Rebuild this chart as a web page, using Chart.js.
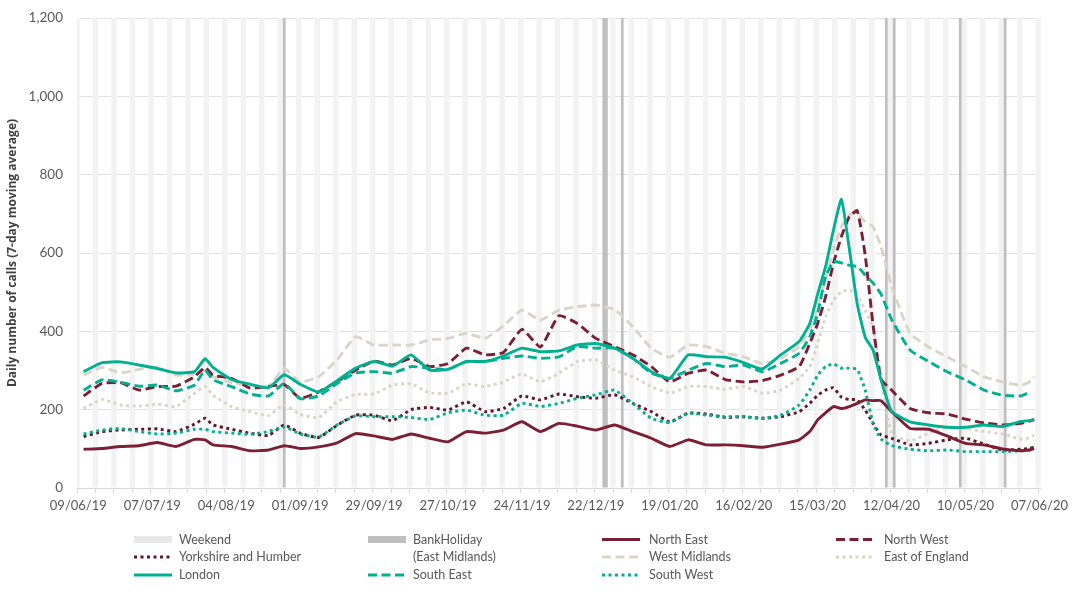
<!DOCTYPE html>
<html>
<head>
<meta charset="utf-8">
<script src="https://cdn.jsdelivr.net/npm/chart.js@4.4.0/dist/chart.umd.min.js"></script>
<style>
  html, body { margin: 0; padding: 0; background: #fff; }
  #wrap { width: 1073px; height: 601px; }
</style>
</head>
<body>
<div id="wrap"><canvas id="chart" width="1073" height="601"></canvas></div>
<script>
// one category per day, 09/06/19 .. 07/06/20
var startDay = Date.UTC(2019, 5, 9);
var dayCount = 365;
var dayLabels = [];
var weekendDays = [];
for (var i = 0; i < dayCount; i++) {
  var dt = new Date(startDay + i * 86400000);
  var lbl = ('0' + dt.getUTCDate()).slice(-2) + '/' + ('0' + (dt.getUTCMonth() + 1)).slice(-2) + '/' + String(dt.getUTCFullYear()).slice(-2);
  dayLabels.push(lbl);
  if (dt.getUTCDay() === 0 || dt.getUTCDay() === 6) weekendDays.push(lbl);
}
var bankHolidays = ['26/08/19', '25/12/19', '26/12/19', '01/01/20', '10/04/20', '13/04/20', '08/05/20', '25/05/20'];
var shadeTop = 1200;

var sampleDays = [2, 9, 16, 23, 30, 37, 44, 48, 51, 58, 65, 72, 78, 84, 91, 98, 105, 112, 119, 126,
  133, 140, 147, 154, 161, 168, 175, 182, 189, 196, 203, 210, 217, 224, 231, 238, 245, 252, 259, 266,
  273, 277, 280, 283, 286, 289, 292, 295, 298, 301, 304, 308, 315, 322, 329, 336, 343, 350, 357, 360, 362];

var northEast = [99, 101, 106, 108, 116, 106, 124, 123, 110, 106, 95, 97, 108, 101, 105, 115, 139, 133, 124, 138,
  127, 118, 144, 140, 148, 169, 144, 165, 158, 148, 161, 144, 127, 106, 123, 110, 110, 108, 104, 112,
  123, 144, 174, 192, 208, 203, 208, 216, 225, 223, 223, 195, 152, 150, 133, 114, 110, 100, 95, 97, 101];
var northWest = [235, 267, 269, 250, 259, 260, 284, 308, 288, 280, 255, 259, 264, 229, 245, 272, 301, 324, 314, 331,
  310, 318, 357, 340, 346, 405, 360, 440, 420, 382, 361, 340, 310, 271, 293, 301, 277, 271, 274, 288,
  310, 369, 420, 488, 574, 642, 693, 708, 595, 415, 278, 250, 203, 192, 189, 176, 166, 161, 165, 170, 175];
var yorkshire = [131, 144, 148, 150, 151, 144, 163, 178, 161, 150, 140, 134, 161, 140, 129, 160, 186, 186, 172, 200,
  206, 199, 220, 195, 203, 235, 225, 240, 233, 229, 238, 216, 195, 169, 191, 189, 180, 182, 178, 182,
  195, 216, 237, 250, 256, 232, 226, 225, 199, 165, 135, 127, 110, 114, 123, 127, 112, 97, 99, 101, 104];
var westMidlands = [288, 308, 294, 303, 308, 288, 291, 301, 284, 269, 262, 260, 305, 271, 284, 327, 386, 365, 365, 365,
  378, 382, 395, 382, 414, 454, 429, 454, 463, 467, 456, 412, 357, 334, 365, 361, 344, 335, 318, 331,
  361, 403, 463, 531, 608, 667, 697, 701, 680, 667, 616, 515, 395, 360, 335, 310, 284, 271, 262, 270, 284];
var eastOfEngland = [203, 226, 212, 209, 214, 208, 242, 259, 237, 208, 195, 185, 212, 188, 180, 220, 239, 240, 263, 266,
  243, 242, 266, 259, 271, 291, 271, 293, 323, 327, 301, 284, 259, 242, 259, 259, 252, 259, 242, 250,
  280, 310, 369, 437, 480, 501, 506, 493, 454, 410, 288, 140, 120, 140, 155, 152, 144, 138, 125, 128, 135];
var london = [297, 320, 322, 314, 305, 294, 297, 330, 308, 277, 265, 256, 289, 265, 245, 274, 306, 323, 311, 340,
  301, 303, 323, 323, 337, 357, 348, 350, 365, 369, 357, 331, 297, 280, 340, 335, 334, 320, 304, 340,
  374, 420, 495, 565, 659, 737, 610, 470, 385, 352, 276, 196, 169, 161, 155, 155, 161, 157, 170, 172, 174];
var southEast = [250, 276, 270, 260, 263, 248, 263, 301, 276, 259, 240, 235, 267, 228, 235, 267, 294, 297, 293, 310,
  306, 303, 323, 323, 331, 337, 331, 335, 361, 357, 357, 331, 293, 280, 301, 318, 310, 314, 297, 318,
  344, 386, 446, 540, 578, 575, 569, 565, 544, 523, 495, 430, 352, 323, 297, 276, 250, 237, 235, 244, null];
var southWest = [138, 148, 152, 144, 138, 140, 150, 150, 144, 140, 137, 144, 156, 138, 130, 161, 184, 182, 182, 180,
  175, 192, 199, 186, 186, 216, 208, 216, 229, 238, 250, 216, 178, 167, 191, 186, 182, 182, 178, 186,
  212, 250, 288, 310, 317, 306, 306, 303, 250, 165, 125, 108, 99, 95, 97, 93, 93, 93, 95, 96, 97];

var maroon = '#7b1f34';
var maroonDark = '#5c1828';
var teal = '#00b090';
var stone = '#d9d5c8';

function points(values) {
  return sampleDays.map(function (d, k) { return { x: dayLabels[d], y: values[k] }; });
}
function shade(days) {
  return dayLabels.map(function (l) { return days.indexOf(l) >= 0 ? shadeTop : null; });
}
function lineSet(label, values, color, dash, order) {
  return {
    type: 'line', label: label, data: points(values), borderColor: color, backgroundColor: color,
    borderWidth: 2.9, borderDash: dash, pointRadius: 0, tension: 0.15, order: order
  };
}

var dotted = [3, 3.5];
var dashed = [9, 4.5];

var datasets = [
  { label: 'Weekend', data: shade(weekendDays), backgroundColor: '#f2f2f2', legendColor: '#e8e8e8', order: 21 },
  { label: 'BankHoliday', data: shade(bankHolidays), backgroundColor: '#bfbfbf', legendColor: '#bfbfbf', order: 20 },
  lineSet('North East', northEast, maroon, [], 2),
  lineSet('North West', northWest, maroon, dashed, 4),
  lineSet('Yorkshire and Humber', yorkshire, maroonDark, dotted, 6),
  lineSet('West Midlands', westMidlands, stone, dashed, 7),
  lineSet('East of England', eastOfEngland, stone, dotted, 8),
  lineSet('London', london, teal, [], 1),
  lineSet('South East', southEast, teal, dashed, 3),
  lineSet('South West', southWest, teal, dotted, 5)
];
datasets.forEach(function (ds) {
  if (!ds.type) {
    ds.grouped = false; ds.barPercentage = 1.04; ds.categoryPercentage = 1; ds.borderWidth = 0;
  }
});

// legend as laid out in the original: 4 columns, 3 rows
var legendRows = [
  ['Weekend', 'BankHoliday', 'North East', 'North West'],
  ['Yorkshire and Humber', '(East Midlands)', 'West Midlands', 'East of England'],
  ['London', 'South East', 'South West']
];
var gridLegend = {
  id: 'gridLegend',
  afterDraw: function (chart) {
    var ctx = chart.ctx;
    var markX = [134, 368, 602, 836], textX = [179, 413, 649, 884], rowY = [539.5, 557, 575];
    ctx.save();
    ctx.font = '12.5px Lato';
    ctx.textBaseline = 'middle';
    legendRows.forEach(function (row, r) {
      row.forEach(function (label, c) {
        var y = rowY[r];
        var ds = chart.data.datasets.find(function (d) { return d.label === label; });
        if (ds && ds.type === 'line') {
          ctx.beginPath();
          ctx.setLineDash(ds.borderDash);
          ctx.lineWidth = ds.borderWidth;
          ctx.strokeStyle = ds.borderColor;
          ctx.moveTo(markX[c], y);
          ctx.lineTo(markX[c] + 38, y);
          ctx.stroke();
          ctx.setLineDash([]);
        } else if (ds) {
          ctx.fillStyle = ds.legendColor;
          ctx.fillRect(markX[c], y - 3.5, 38, 7);
        }
        ctx.fillStyle = '#595959';
        ctx.fillText(label, textX[c], y);
      });
    });
    ctx.restore();
  }
};

new Chart(document.getElementById('chart').getContext('2d'), {
  type: 'bar',
  data: { labels: dayLabels, datasets: datasets },
  options: {
    responsive: false,
    animation: false,
    layout: { padding: { top: 18, right: 31, bottom: 90, left: 0 } },
    plugins: { legend: { display: false }, tooltip: { enabled: false } },
    scales: {
      x: {
        offset: true,
        grid: {
          offset: true, drawOnChartArea: false, tickLength: 5,
          color: function (c) { return c.index % 7 === 0 ? '#d9d9d9' : 'rgba(0,0,0,0)'; }
        },
        border: { color: '#d9d9d9' },
        ticks: {
          autoSkip: false, maxRotation: 0, minRotation: 0, padding: 5, color: '#595959',
          font: { family: 'Lato', size: 13 },
          callback: function (v, i) { return i % 28 === 0 ? dayLabels[i] : ''; }
        },
        afterFit: function (s) { s.height = 23; }
      },
      y: {
        min: 0, max: 1200,
        ticks: { stepSize: 200, padding: 3, color: '#595959', font: { family: 'Lato', size: 13.5 } },
        grid: { color: '#e2e2e2', drawTicks: true, tickLength: 11, tickColor: 'rgba(0,0,0,0)' },
        border: { display: false },
        title: {
          display: true, text: 'Daily number of calls (7-day moving average)', color: '#404040',
          font: { family: 'Open Sans', size: 12, weight: 'bold' }, padding: { top: 5, bottom: 0 }
        },
        afterFit: function (s) { s.width = 77; }
      }
    }
  },
  plugins: [gridLegend]
});
</script>
</body>
</html>
